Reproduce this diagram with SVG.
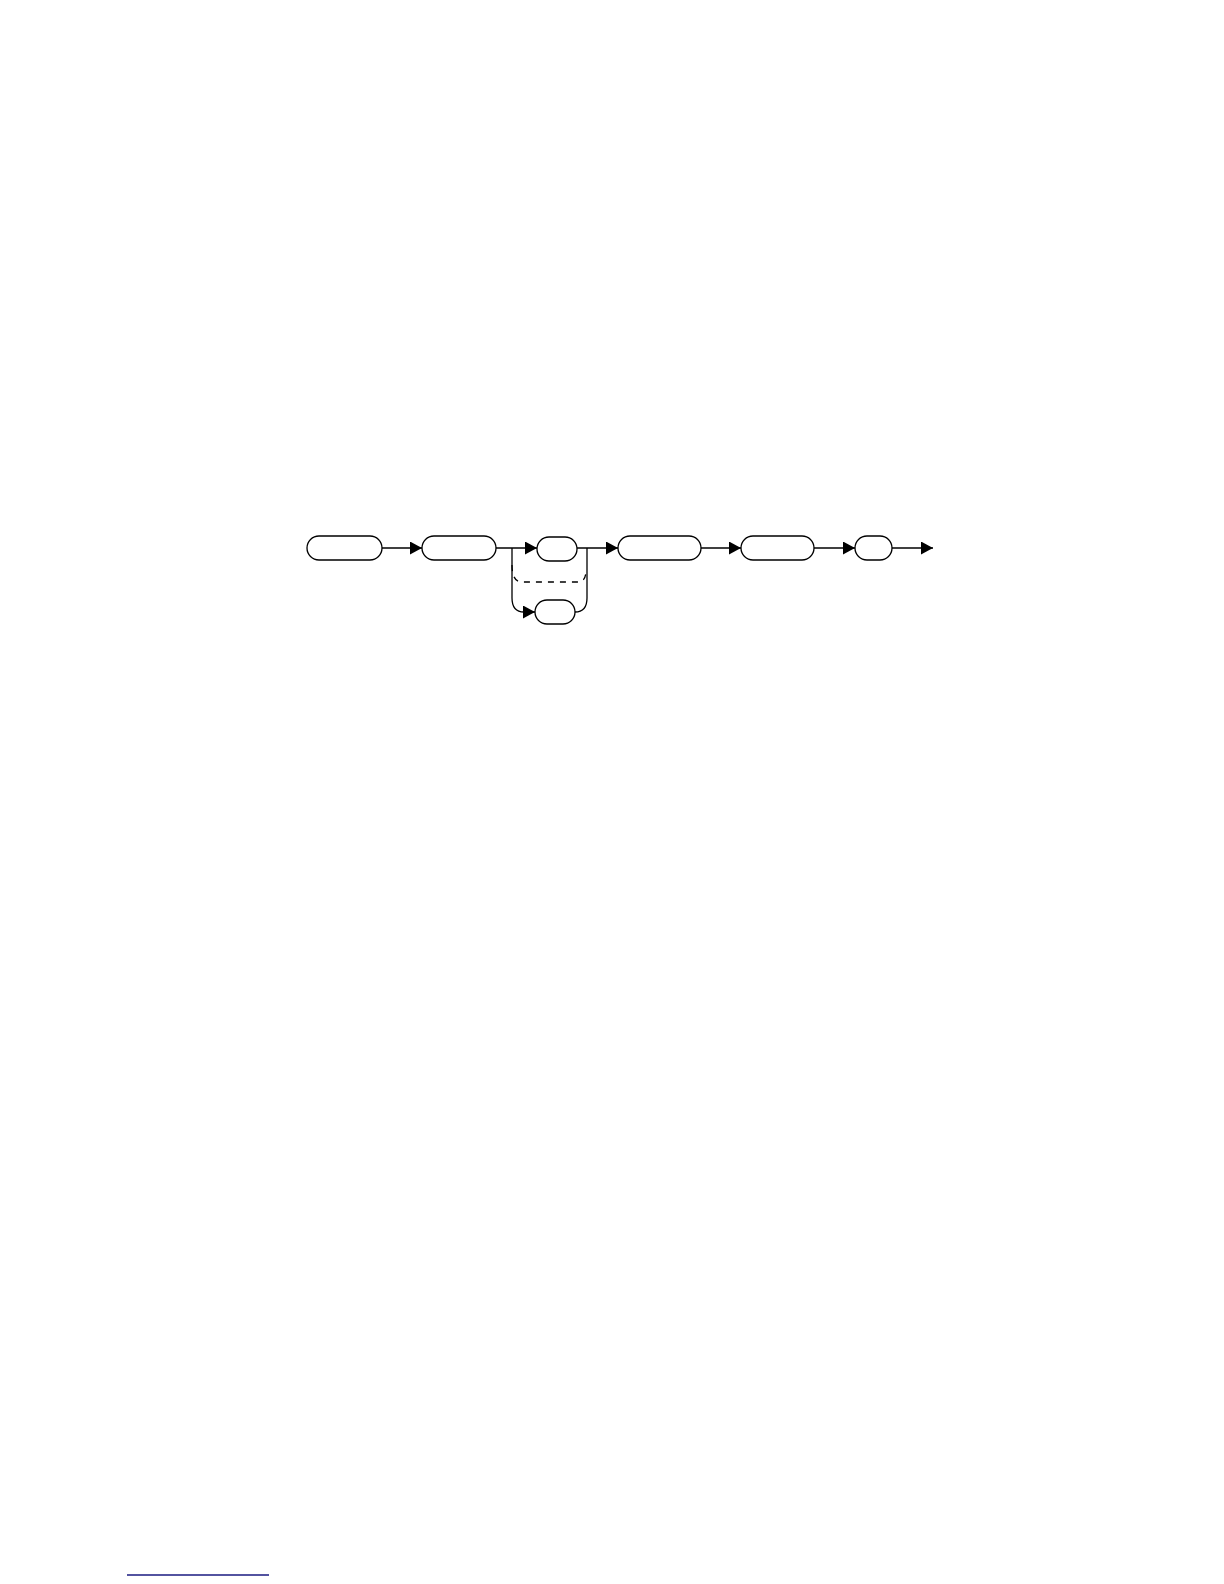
<svg xmlns="http://www.w3.org/2000/svg" width="1224" height="1584" viewBox="0 0 1224 1584">
<style>
.node{fill:#fff;stroke:#000;stroke-width:1.3}
.c{fill:none;stroke:#000;stroke-width:1.3}
.d{fill:none;stroke:#000;stroke-width:1.3;stroke-dasharray:6,6}
</style>
<defs>
<marker id="ah" markerUnits="userSpaceOnUse" markerWidth="13" markerHeight="13" refX="12" refY="6.5" orient="auto">
<path d="M0,0 L12,6.5 L0,13 Z" fill="#000"/>
</marker>
</defs>
<rect width="1224" height="1584" fill="#fff"/>
<g id="connectors">
<path class="c" d="M382,548 L422,548" marker-end="url(#ah)"/>
<path class="c" d="M496,548 L512,548 L537,548" marker-end="url(#ah)"/>
<path class="c" d="M512,548 L512,598 Q512,612 524,612 L535,612" marker-end="url(#ah)"/>
<path class="c" d="M577,548 L587,548 L618,548" marker-end="url(#ah)"/>
<path class="c" d="M587,548 L587,598 Q587,612 575,612"/>
<path class="d" d="M512,565 Q512,582 522,582 L578,582 Q586,582 586,570"/>
<path class="c" d="M701,548 L741,548" marker-end="url(#ah)"/>
<path class="c" d="M814,548 L855,548" marker-end="url(#ah)"/>
<path class="c" d="M892,548 L933,548" marker-end="url(#ah)"/>
</g>
<g id="n1"><rect class="node" x="307" y="536" width="75" height="24" rx="12"/></g>
<g id="n2"><rect class="node" x="422" y="536" width="74" height="24" rx="12"/></g>
<g id="n3"><rect class="node" x="537" y="537" width="40" height="24" rx="12"/></g>
<g id="n4"><rect class="node" x="535" y="600" width="40" height="24" rx="12"/></g>
<g id="n5"><rect class="node" x="618" y="536" width="83" height="24" rx="12"/></g>
<g id="n6"><rect class="node" x="741" y="536" width="73" height="24" rx="12"/></g>
<g id="n7"><rect class="node" x="855" y="536" width="37" height="24" rx="12"/></g>
<line x1="127" y1="1575" x2="269" y2="1575" stroke="#1a1a80" stroke-width="1.3"/>
</svg>
